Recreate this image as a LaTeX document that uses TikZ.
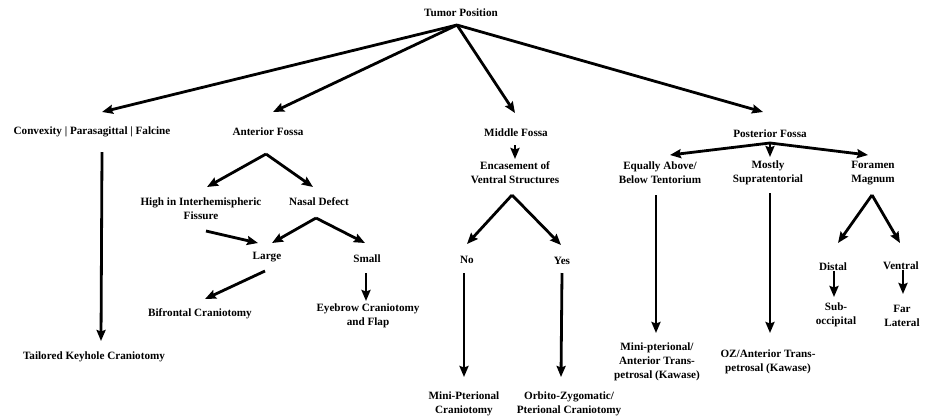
\documentclass[tikz,border=0pt]{standalone}
\usepackage{fontspec}
\setmainfont{Liberation Serif}[BoldFont={Liberation Serif Bold}]
\usetikzlibrary{arrows.meta}
\begin{document}
\begin{tikzpicture}[x=1bp,y=-1bp,
  lbl/.style={font=\fontsize{11.2}{14}\selectfont\bfseries, align=center, inner sep=0pt},
  arr/.style={line width=2.8bp, -{Stealth[length=11bp,width=9bp,inset=1.5bp]}}]
\useasboundingbox (0,0) rectangle (925,418);
% nodes
\node[lbl] (tp) at (461,13) {Tumor Position};
\node[lbl] (cv) at (92,132) {Convexity | Parasagittal | Falcine};
\node[lbl] (af) at (268,132) {Anterior Fossa};
\node[lbl] (mf) at (516,133) {Middle Fossa};
\node[lbl] (pf) at (770,134) {Posterior Fossa};
\node[lbl] (tk) at (94,357) {Tailored Keyhole Craniotomy};
\node[lbl] (hi) at (201,209) {High in Interhemispheric\\Fissure};
\node[lbl] (nd) at (319,202) {Nasal Defect};
\node[lbl] (lg) at (267,257) {Large};
\node[lbl] (sm) at (367,259) {Small};
\node[lbl] (bf) at (200,314) {Bifrontal Craniotomy};
\node[lbl] (eb) at (368,316) {Eyebrow Craniotomy\\and Flap};
\node[lbl] (en) at (515,173) {Encasement of\\Ventral Structures};
\node[lbl] (no) at (467,260) {No};
\node[lbl] (ys) at (562,261) {Yes};
\node[lbl] (mp) at (464,403.5) {Mini-Pterional\\Craniotomy};
\node[lbl] (oz) at (569,404) {Orbito-Zygomatic/\\Pterional Craniotomy};
\node[lbl] (ea) at (660,173) {Equally Above/\\Below Tentorium};
\node[lbl] (ms) at (768,173) {Mostly\\Supratentorial};
\node[lbl] (fm) at (873,173) {Foramen\\Magnum};
\node[lbl] (mn) at (657,362) {Mini-pterional/\\Anterior Trans-\\petrosal (Kawase)};
\node[lbl] (oa) at (768,361.5) {OZ/Anterior Trans-\\petrosal (Kawase)};
\node[lbl] (di) at (833,267) {Distal};
\node[lbl] (ve) at (901,266) {Ventral};
\node[lbl] (so) at (836,315) {Sub-\\occipital};
\node[lbl] (fl) at (902,316) {Far\\Lateral};
% connector end points
\coordinate (tpS) at (457,25);
\coordinate (cvN) at (102,112);
\coordinate (afN) at (273,112);
\coordinate (mfN) at (515,113);
\coordinate (pfN) at (763,112);
\coordinate (cvS) at (102,152);
\coordinate (tkN) at (101,341);
\coordinate (afS) at (266,154);
\coordinate (hiN) at (207,187);
\coordinate (ndN) at (313,187);
\coordinate (hiS) at (206,231);
\coordinate (lgW) at (258,243);
\coordinate (ndS) at (316,218);
\coordinate (lgN) at (272,243);
\coordinate (smN) at (365,243);
\coordinate (lgS) at (265,271);
\coordinate (bfN) at (205,299);
\coordinate (smS) at (366,273);
\coordinate (ebN) at (366,301);
\coordinate (mfS) at (515,145);
\coordinate (enN) at (515,159);
\coordinate (enS) at (512,195);
\coordinate (noN) at (467,244);
\coordinate (ysN) at (561,245);
\coordinate (noS) at (464,273);
\coordinate (mpN) at (464,377);
\coordinate (ysS) at (562,273);
\coordinate (ozN) at (561,377);
\coordinate (pfS) at (770,143);
\coordinate (eaN) at (670,155);
\coordinate (msN) at (770,157);
\coordinate (fmN) at (868,155);
\coordinate (eaS) at (656,195);
\coordinate (mnN) at (656,333);
\coordinate (msS) at (770,193);
\coordinate (oaN) at (770,333);
\coordinate (fmS) at (872,195);
\coordinate (diN) at (838,243);
\coordinate (veN) at (900,243);
\coordinate (diS) at (834,271);
\coordinate (soN) at (834,297);
\coordinate (veS) at (903,270);
\coordinate (flN) at (903,294);
% connectors
\draw[arr] (tpS) -- (cvN);
\draw[arr] (tpS) -- (afN);
\draw[arr] (tpS) -- (mfN);
\draw[arr] (tpS) -- (pfN);
\draw[arr] (cvS) -- (tkN);
\draw[arr] (afS) -- (hiN);
\draw[arr] (afS) -- (ndN);
\draw[arr] (hiS) -- (lgW);
\draw[arr] (ndS) -- (lgN);
\draw[arr] (ndS) -- (smN);
\draw[arr] (lgS) -- (bfN);
\draw[arr] (smS) -- (ebN);
\draw[arr] (mfS) -- (enN);
\draw[arr] (enS) -- (noN);
\draw[arr] (enS) -- (ysN);
\draw[arr] (noS) -- (mpN);
\draw[arr] (ysS) -- (ozN);
\draw[arr] (pfS) -- (eaN);
\draw[arr] (pfS) -- (msN);
\draw[arr] (pfS) -- (fmN);
\draw[arr] (eaS) -- (mnN);
\draw[arr] (msS) -- (oaN);
\draw[arr] (fmS) -- (diN);
\draw[arr] (fmS) -- (veN);
\draw[arr] (diS) -- (soN);
\draw[arr] (veS) -- (flN);
\end{tikzpicture}
\end{document}
